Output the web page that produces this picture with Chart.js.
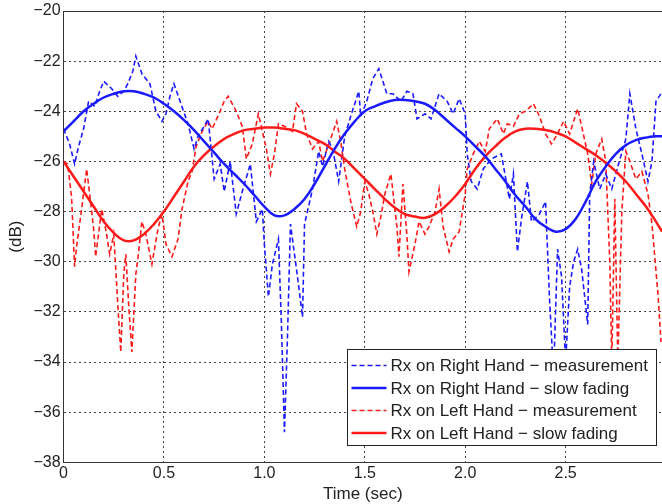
<!DOCTYPE html>
<html>
<head>
<meta charset="utf-8">
<script src="https://cdn.jsdelivr.net/npm/chart.js@4"></script>
<style>
  html, body { margin: 0; padding: 0; background: #fff; }
  #wrap { width: 662px; height: 504px; position: relative; }
</style>
</head>
<body>
<div id="wrap"><canvas id="fadingChart"></canvas></div>
<script>
// right hand, measured (time in sec, level in dB)
const rightMeasTime = [0.00,0.03,0.055,0.075,0.10,0.125,0.155,0.18,0.20,0.24,0.27,0.30,0.32,0.345,0.36,0.39,0.43,0.46,0.49,0.51,0.53,0.55,0.58,0.62,0.65,0.67,0.70,0.72,0.75,0.78,0.80,0.83,0.86,0.89,0.93,0.96,0.99,1.00,1.02,1.04,1.07,1.085,1.10,1.115,1.13,1.15,1.165,1.19,1.20,1.24,1.27,1.29,1.32,1.34,1.37,1.40,1.43,1.47,1.48,1.51,1.54,1.57,1.61,1.64,1.68,1.71,1.74,1.76,1.80,1.83,1.87,1.91,1.94,1.97,2.00,2.01,2.03,2.06,2.09,2.13,2.18,2.22,2.24,2.26,2.28,2.31,2.33,2.37,2.40,2.42,2.44,2.46,2.48,2.50,2.52,2.54,2.56,2.58,2.61,2.62,2.64,2.67,2.70,2.73,2.76,2.80,2.82,2.85,2.88,2.91,2.93,2.95,2.975];
const rightMeas = [-24.7,-25.3,-26.1,-25.4,-24.7,-23.6,-23.8,-23.2,-22.8,-23.1,-23.4,-23.2,-22.9,-22.4,-21.8,-22.5,-22.9,-24.0,-24.4,-24.1,-23.4,-22.9,-23.6,-24.5,-25.5,-25.0,-24.6,-24.3,-26.7,-26.1,-27.2,-26.0,-28.1,-27.2,-26.1,-28.4,-27.9,-29.3,-31.4,-30.1,-29.1,-32.5,-36.8,-33.0,-28.5,-29.7,-30.6,-32.2,-28.5,-27.1,-25.6,-26.2,-25.2,-25.5,-26.8,-25.0,-24.2,-23.2,-24.2,-23.6,-22.7,-22.3,-23.3,-23.3,-23.6,-23.2,-23.3,-24.3,-24.1,-24.3,-23.3,-23.6,-24.1,-23.5,-24.1,-25.7,-26.8,-27.1,-26.3,-25.9,-25.7,-27.5,-26.5,-29.6,-28.3,-26.8,-28.4,-28.1,-27.6,-31.5,-34.5,-29.5,-30.6,-34.0,-31.0,-30.0,-29.5,-30.3,-32.5,-27.3,-26.0,-27.1,-26.5,-27.1,-26.2,-25.1,-23.3,-24.7,-25.7,-26.8,-26.0,-23.6,-23.3];

// left hand, measured
const leftMeasTime = [0.00,0.02,0.04,0.055,0.065,0.09,0.115,0.13,0.15,0.16,0.19,0.21,0.23,0.25,0.27,0.285,0.30,0.31,0.325,0.34,0.36,0.37,0.39,0.41,0.44,0.47,0.49,0.51,0.54,0.57,0.59,0.62,0.64,0.66,0.69,0.72,0.74,0.78,0.80,0.82,0.86,0.89,0.91,0.94,0.97,0.99,1.01,1.03,1.05,1.07,1.10,1.14,1.16,1.19,1.21,1.24,1.27,1.29,1.33,1.36,1.38,1.40,1.43,1.46,1.48,1.50,1.52,1.54,1.56,1.58,1.60,1.63,1.66,1.67,1.69,1.71,1.72,1.75,1.77,1.80,1.82,1.85,1.87,1.89,1.92,1.94,1.97,2.00,2.01,2.04,2.07,2.10,2.12,2.16,2.19,2.21,2.24,2.27,2.30,2.34,2.37,2.40,2.43,2.46,2.49,2.52,2.56,2.58,2.61,2.63,2.65,2.68,2.70,2.72,2.73,2.745,2.76,2.78,2.80,2.82,2.85,2.88,2.91,2.93,2.96,2.975];
const leftMeas = [-26.0,-26.1,-27.4,-30.2,-29.4,-27.9,-26.3,-27.3,-28.7,-29.8,-27.9,-28.7,-29.7,-28.9,-31.7,-33.6,-30.5,-29.7,-31.8,-33.6,-30.5,-29.9,-28.4,-28.9,-30.1,-28.7,-28.1,-29.3,-29.8,-29.1,-27.9,-26.8,-26.4,-25.4,-24.8,-24.4,-24.7,-24.0,-23.6,-23.4,-24.0,-24.6,-25.9,-25.3,-24.1,-24.8,-25.5,-26.5,-25.7,-24.5,-24.6,-24.8,-23.7,-24.0,-24.9,-25.5,-25.2,-26.0,-25.1,-24.4,-25.2,-26.3,-27.6,-28.6,-28.0,-26.8,-27.3,-28.0,-28.9,-28.2,-27.3,-26.5,-28.6,-29.8,-26.9,-29.0,-30.4,-29.3,-28.4,-28.9,-28.6,-28.0,-27.1,-28.6,-29.6,-29.1,-28.8,-27.3,-26.3,-25.7,-25.2,-25.6,-24.7,-24.3,-24.9,-24.5,-24.6,-24.1,-24.0,-23.7,-24.2,-24.9,-25.3,-24.9,-24.4,-24.9,-23.9,-24.6,-25.7,-26.9,-25.7,-25.1,-26.0,-30.0,-34.0,-27.5,-34.0,-28.0,-25.6,-26.0,-26.7,-26.4,-27.3,-28.5,-31.3,-33.2];

// slow fading curves
const slowTime = [0,0.05,0.1,0.15,0.2,0.25,0.3,0.35,0.4,0.45,0.5,0.55,0.6,0.65,0.7,0.75,0.8,0.85,0.9,0.95,1.0,1.05,1.1,1.15,1.2,1.25,1.3,1.35,1.4,1.45,1.5,1.55,1.6,1.65,1.7,1.75,1.8,1.85,1.9,1.95,2.0,2.05,2.1,2.15,2.2,2.25,2.3,2.35,2.4,2.45,2.5,2.55,2.6,2.65,2.7,2.75,2.8,2.85,2.9,2.95,2.98];
const rightSlow = [-24.8,-24.4,-24.0,-23.7,-23.45,-23.3,-23.2,-23.2,-23.3,-23.45,-23.7,-24.0,-24.35,-24.75,-25.2,-25.65,-26.1,-26.5,-26.9,-27.35,-27.8,-28.15,-28.15,-27.9,-27.5,-26.9,-26.2,-25.5,-24.9,-24.4,-24.0,-23.8,-23.65,-23.55,-23.55,-23.6,-23.7,-23.95,-24.3,-24.65,-25.0,-25.4,-25.8,-26.3,-26.8,-27.35,-27.8,-28.3,-28.6,-28.8,-28.7,-28.3,-27.6,-26.8,-26.2,-25.7,-25.35,-25.15,-25.05,-25.0,-25.0];
const leftSlow = [-26.0,-26.6,-27.2,-27.8,-28.4,-28.85,-29.15,-29.15,-28.9,-28.5,-28.0,-27.4,-26.8,-26.2,-25.75,-25.4,-25.1,-24.9,-24.75,-24.7,-24.65,-24.65,-24.7,-24.75,-24.9,-25.1,-25.3,-25.6,-25.9,-26.3,-26.7,-27.1,-27.5,-27.85,-28.1,-28.2,-28.25,-28.1,-27.8,-27.4,-26.9,-26.3,-25.8,-25.4,-25.05,-24.8,-24.7,-24.7,-24.75,-24.85,-25.0,-25.25,-25.5,-25.75,-26.05,-26.4,-26.8,-27.3,-27.8,-28.4,-28.8];

const xTicks = [0, 0.5, 1, 1.5, 2, 2.5];
const legendLabels = [
  'Rx on Right Hand \u2212 measurement',
  'Rx on Right Hand \u2212 slow fading',
  'Rx on Left Hand \u2212 measurement',
  'Rx on Left Hand \u2212 slow fading'
];

const BLUE = '#1a1aff';
const RED = '#ff1a1a';
const FONT = "'Liberation Sans', Arial, sans-serif";

function pts(xs, ys) {
  return xs.map((x, i) => ({x: x, y: ys[i]}));
}

// legend drawn on top of the lines, like the matlab one
const boxLegend = {
  id: 'boxLegend',
  afterDatasetsDraw(chart) {
    const ctx = chart.ctx;
    const ca = chart.chartArea;
    ctx.save();
    // top frame line
    ctx.strokeStyle = '#333';
    ctx.lineWidth = 1;
    ctx.beginPath();
    ctx.moveTo(ca.left, ca.top + 0.5);
    ctx.lineTo(ca.right, ca.top + 0.5);
    ctx.stroke();

    const bx = 347.5, by = 349.5, bw = 309, bh = 96;
    ctx.fillStyle = '#fff';
    ctx.fillRect(bx, by, bw, bh);
    ctx.strokeStyle = '#222';
    ctx.strokeRect(bx, by, bw, bh);

    const sets = chart.data.datasets;
    const order = [2, 0, 3, 1];
    ctx.font = '17px ' + FONT;
    ctx.textBaseline = 'middle';
    order.forEach((di, row) => {
      const ds = sets[di];
      const y = by + 16 + row * 22.5;
      ctx.strokeStyle = ds.borderColor;
      ctx.lineWidth = ds.borderWidth;
      ctx.setLineDash(ds.borderDash || []);
      ctx.beginPath();
      ctx.moveTo(bx + 4, y);
      ctx.lineTo(bx + 39, y);
      ctx.stroke();
      ctx.setLineDash([]);
      ctx.fillStyle = '#222';
      ctx.fillText(legendLabels[row], bx + 43, y + 1);
    });
    ctx.restore();
  }
};

const ctx = document.getElementById('fadingChart').getContext('2d');
new Chart(ctx, {
  type: 'line',
  data: {
    datasets: [
      {
        label: legendLabels[1],
        data: pts(slowTime, rightSlow),
        borderColor: BLUE,
        borderWidth: 2.5,
        tension: 0.4,
        pointRadius: 0
      },
      {
        label: legendLabels[3],
        data: pts(slowTime, leftSlow),
        borderColor: RED,
        borderWidth: 2.5,
        tension: 0.4,
        pointRadius: 0
      },
      {
        label: legendLabels[0],
        data: pts(rightMeasTime, rightMeas),
        borderColor: BLUE,
        borderWidth: 1.6,
        borderDash: [5, 3],
        tension: 0,
        pointRadius: 0
      },
      {
        label: legendLabels[2],
        data: pts(leftMeasTime, leftMeas),
        borderColor: RED,
        borderWidth: 1.6,
        borderDash: [5, 3],
        tension: 0,
        pointRadius: 0
      }
    ]
  },
  options: {
    responsive: true,
    maintainAspectRatio: false,
    animation: false,
    layout: { padding: { left: 6, top: 1, right: 0, bottom: 0 } },
    plugins: {
      legend: { display: false },
      tooltip: { enabled: false }
    },
    scales: {
      x: {
        type: 'linear',
        min: 0,
        max: 2.98,
        afterBuildTicks: axis => { axis.ticks = xTicks.map(v => ({value: v})); },
        ticks: {
          color: '#222',
          font: { family: FONT, size: 16, lineHeight: 1 },
          padding: 3,
          maxRotation: 0
        },
        grid: { color: '#444', lineWidth: 1, drawTicks: false },
        border: { color: '#333', width: 1, dash: [2, 3] },
        title: {
          display: true,
          text: 'Time (sec)',
          color: '#222',
          font: { family: FONT, size: 17, lineHeight: 1.1 },
          padding: { top: 1, bottom: 0 }
        }
      },
      y: {
        min: -38,
        max: -20,
        ticks: {
          stepSize: 2,
          color: '#222',
          font: { family: FONT, size: 16, lineHeight: 1 },
          padding: 3,
          callback: v => (v < 0 ? '\u2212' + Math.abs(v) : String(v))
        },
        grid: { color: '#444', lineWidth: 1, drawTicks: false },
        border: { color: '#333', width: 1, dash: [2, 3] },
        title: {
          display: true,
          text: '(dB)',
          color: '#222',
          font: { family: FONT, size: 17 },
          padding: { top: 0, bottom: 4 }
        }
      }
    }
  },
  plugins: [boxLegend]
});
</script>
</body>
</html>
